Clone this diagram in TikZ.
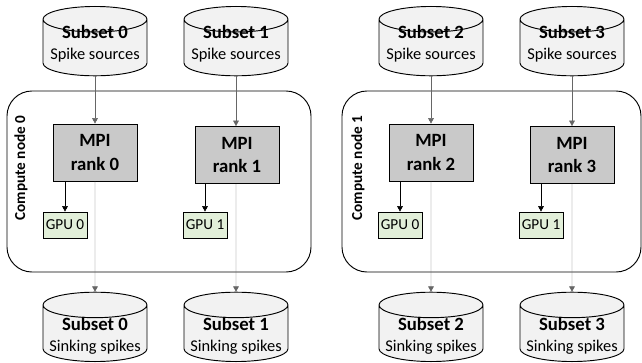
\documentclass[tikz,border=0pt]{standalone}
\usepackage{fontspec}
\setmainfont{Carlito}
\usepackage{xcolor}
\usepackage{tikz}
\usetikzlibrary{shapes.geometric, arrows.meta, positioning, calc}
\definecolor{dbfill}{HTML}{F2F2F2}
\definecolor{mpifill}{HTML}{C9C9C9}
\definecolor{gpufill}{HTML}{E2EFD9}
\tikzset{
  spikedb/.style={
    cylinder, shape border rotate=90, draw, thick, fill=dbfill,
    aspect=0.25, minimum height=2.08cm, minimum width=3.12cm,
    text width=3.06cm, inner sep=0pt
  },
  dbtext/.style={
    align=center, inner sep=0pt, font=\fontsize{14}{18}\selectfont
  },
  mpibox/.style={
    draw, thick, fill=mpifill, align=center,
    minimum width=2.52cm, minimum height=1.71cm,
    font=\fontsize{16}{20}\selectfont\bfseries
  },
  gpubox/.style={
    draw, thick, fill=gpufill, inner sep=1pt,
    minimum width=1.32cm, minimum height=0.78cm,
    font=\fontsize{13}{14}\selectfont
  },
  nodeframe/.style={
    draw, thick, rounded corners=0.75cm, minimum height=5.43cm
  },
  framelabel/.style={
    rotate=90, font=\fontsize{13}{14}\selectfont\bfseries
  },
  spikearrow/.style={
    -{Triangle[length=1.6mm, width=1.7mm]}, black!60
  },
  gpuarrow/.style={
    -{Triangle[length=1.6mm, width=1.7mm]}, black
  },
}

\begin{document}
\begin{tikzpicture}[x=0.03cm, y=-0.03cm]
  \useasboundingbox (0,0) rectangle (642,363);

  % Compute nodes
  \node[nodeframe, minimum width=9.12cm] (cn0) at (159,181.5) {};
  \node[nodeframe, minimum width=8.97cm] (cn1) at (491.5,181.5) {};
  \node[framelabel] (cn0lbl) at (21,168) {Compute node 0};
  \node[framelabel] (cn1lbl) at (358,168) {Compute node 1};

  % Spike sources
  \node[spikedb, anchor=north] (src0) at (95,6) {};
  \node[spikedb, anchor=north] (src1) at (236,6) {};
  \node[spikedb, anchor=north] (src2) at (431,6) {};
  \node[spikedb, anchor=north] (src3) at (572,6) {};
  \node[dbtext] (src0txt) at ($(src0.north)+(0,37.5)$) {\textbf{\fontsize{16}{18}\selectfont Subset 0}\\Spike sources};
  \node[dbtext] (src1txt) at ($(src1.north)+(0,37.5)$) {\textbf{\fontsize{16}{18}\selectfont Subset 1}\\Spike sources};
  \node[dbtext] (src2txt) at ($(src2.north)+(0,37.5)$) {\textbf{\fontsize{16}{18}\selectfont Subset 2}\\Spike sources};
  \node[dbtext] (src3txt) at ($(src3.north)+(0,37.5)$) {\textbf{\fontsize{16}{18}\selectfont Subset 3}\\Spike sources};

  % MPI ranks
  \node[mpibox] (mpi0) at (95,152.5) {MPI\\rank 0};
  \node[mpibox] (mpi1) at (237,155) {MPI\\rank 1};
  \node[mpibox] (mpi2) at (431,152.5) {MPI\\rank 2};
  \node[mpibox] (mpi3) at (572,155) {MPI\\rank 3};

  % GPUs
  \node[gpubox] (gpu0) at (65,225) {GPU 0};
  \node[gpubox] (gpu1) at (205,225) {GPU 1};
  \node[gpubox] (gpu2) at (400,225) {GPU 0};
  \node[gpubox] (gpu3) at (541,225) {GPU 1};

  % Sinking spikes
  \node[spikedb, anchor=south] (snk0) at (95,362) {};
  \node[spikedb, anchor=south] (snk1) at (236,362) {};
  \node[spikedb, anchor=south] (snk2) at (431,362) {};
  \node[spikedb, anchor=south] (snk3) at (572,362) {};
  \node[dbtext] (snk0txt) at ($(snk0.south)+(0,-26.3)$) {\textbf{\fontsize{16}{18}\selectfont Subset 0}\\Sinking spikes};
  \node[dbtext] (snk1txt) at ($(snk1.south)+(0,-26.3)$) {\textbf{\fontsize{16}{18}\selectfont Subset 1}\\Sinking spikes};
  \node[dbtext] (snk2txt) at ($(snk2.south)+(0,-26.3)$) {\textbf{\fontsize{16}{18}\selectfont Subset 2}\\Sinking spikes};
  \node[dbtext] (snk3txt) at ($(snk3.south)+(0,-26.3)$) {\textbf{\fontsize{16}{18}\selectfont Subset 3}\\Sinking spikes};

  % Connectors
  \foreach \i in {0,1,2,3} {
    \draw[spikearrow] (src\i.south) -- (src\i.south |- mpi\i.north);
    \draw[spikearrow] (mpi\i.south -| src\i.south) -- (snk\i.north);
    \draw[gpuarrow] (mpi\i.south -| gpu\i.north) -- (gpu\i.north);
  }
\end{tikzpicture}
\end{document}
